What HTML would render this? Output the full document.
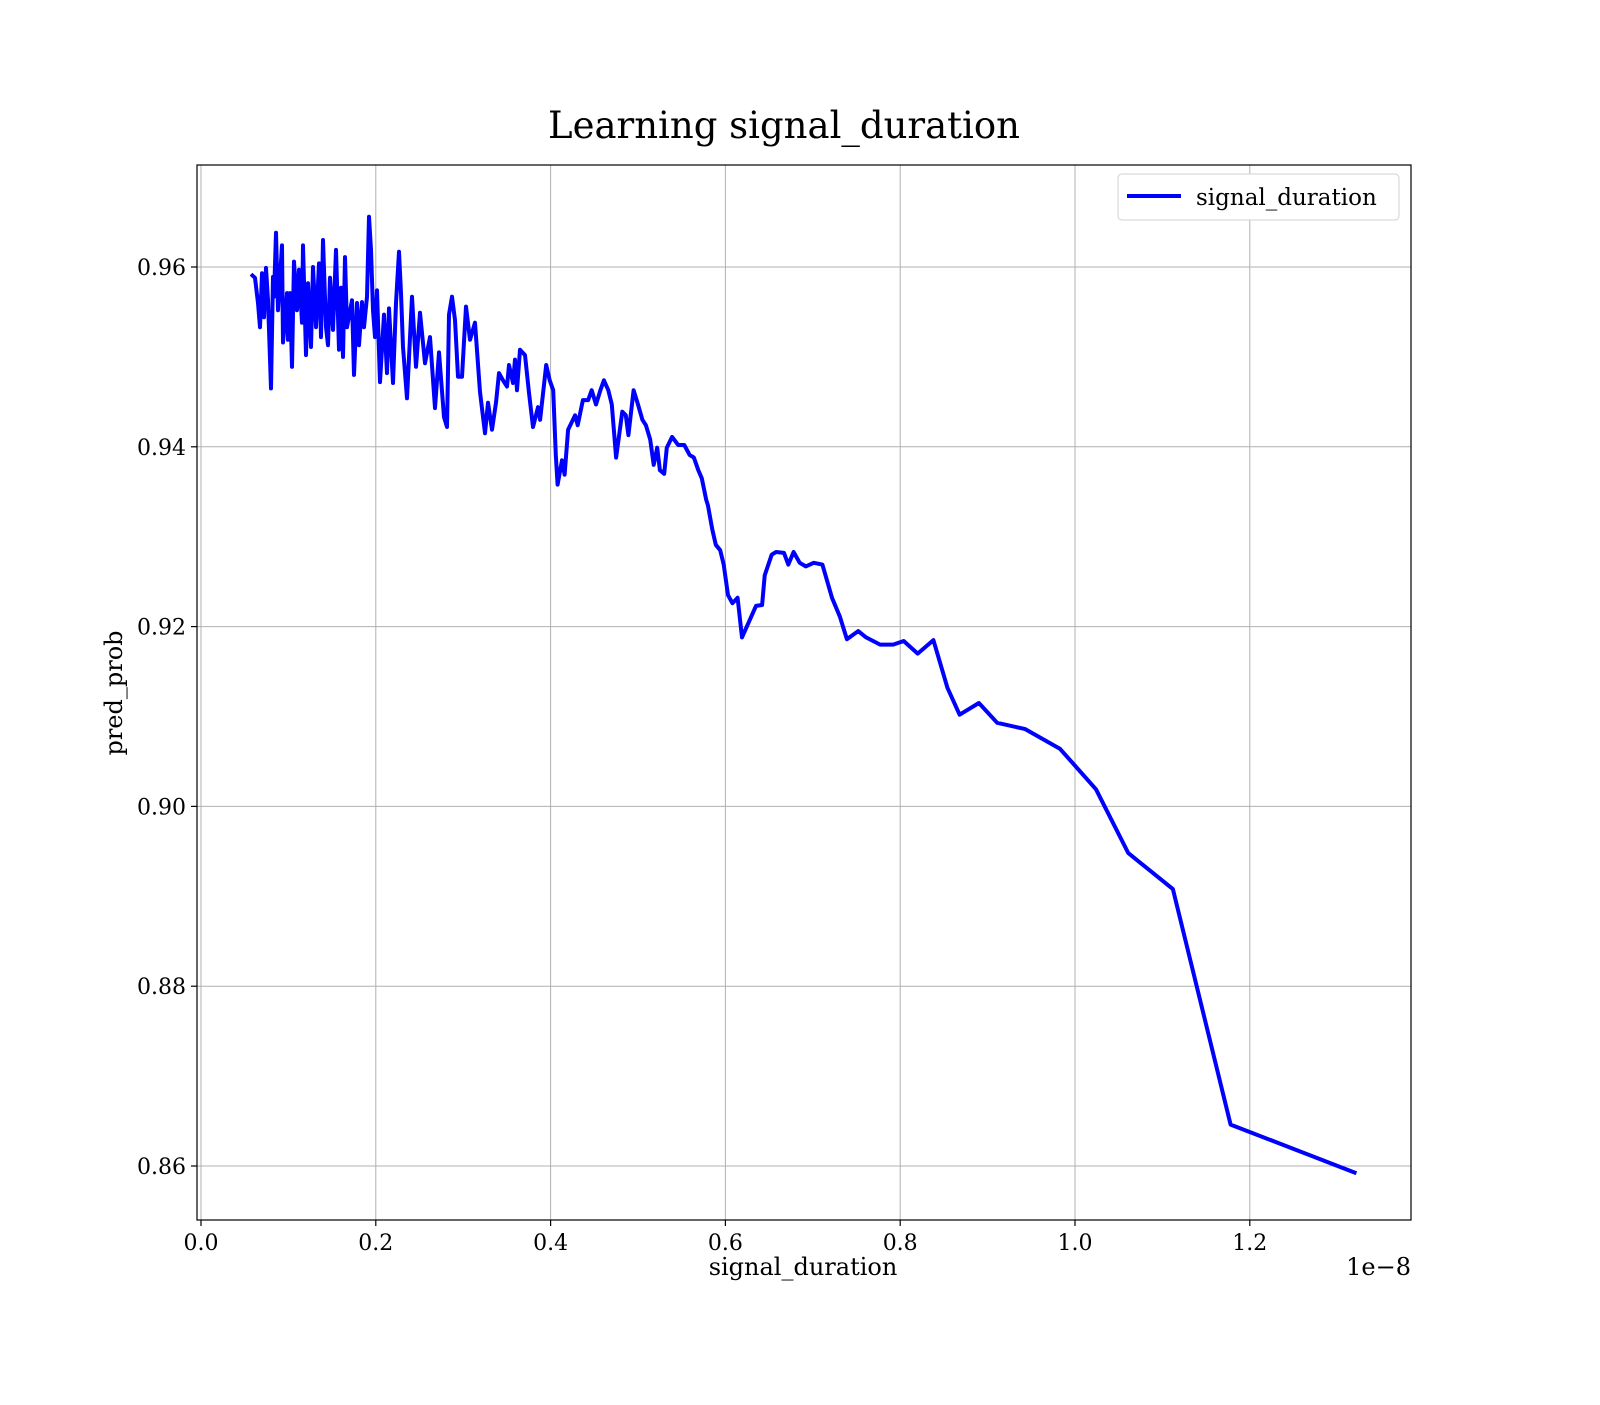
<!DOCTYPE html>
<html><head><meta charset="utf-8"><style>
body{margin:0;background:#fff;}
svg text{font-family:"DejaVu Serif","Liberation Serif",serif;}
</style></head><body>
<svg width="1600" height="1400" xmlns="http://www.w3.org/2000/svg">
<rect width="1600" height="1400" fill="#fff"/>
<text x="784" y="138" font-size="37" text-anchor="middle">Learning signal_duration</text>
<g id="grid"></g>
<g id="ticks"></g>
<path id="series" fill="none" stroke="#0000ff" stroke-width="4" stroke-linejoin="round"/>
<rect x="197" y="165" width="1214" height="1055" fill="none" stroke="#000" stroke-width="1.2"/>
<text x="803" y="1275" font-size="24" text-anchor="middle">signal_duration</text>
<text x="1411" y="1275" font-size="24" text-anchor="end">1e−8</text>
<text transform="translate(122,693) rotate(-90)" font-size="24" text-anchor="middle">pred_prob</text>
<g>
<rect x="1118" y="174" width="281" height="46" rx="4" fill="#fff" stroke="#d0d0d0"/>
<line x1="1127" y1="196" x2="1181" y2="196" stroke="#0000ff" stroke-width="4"/>
<text x="1196" y="205" font-size="23">signal_duration</text>
</g>
</svg>
<script>
const xTicks=[0.0,0.2,0.4,0.6,0.8,1.0,1.2];
const xTickLabels=["0.0","0.2","0.4","0.6","0.8","1.0","1.2"];
const yTicks=[0.86,0.88,0.90,0.92,0.94,0.96];
const yTickLabels=["0.86","0.88","0.90","0.92","0.94","0.96"];
const xs=[0.0572,0.0618,0.0652,0.0675,0.0698,0.0721,0.0744,0.0767,0.0801,0.0824,0.0835,0.0858,0.0881,0.0927,0.0938,0.0984,0.0995,0.1018,0.1041,0.1064,0.1098,0.1121,0.1156,0.1167,0.1201,0.1224,0.1259,0.1281,0.1316,0.1350,0.1373,0.1396,0.1430,0.1453,0.1476,0.1510,0.1545,0.1579,0.1602,0.1625,0.1648,0.1670,0.1728,0.1751,0.1785,0.1808,0.1842,0.1865,0.1899,0.1922,0.1945,0.1968,0.1991,0.2014,0.2048,0.2094,0.2128,0.2151,0.2197,0.2231,0.2265,0.2288,0.2311,0.2357,0.2414,0.2460,0.2506,0.2563,0.2620,0.2677,0.2723,0.2780,0.2815,0.2838,0.2872,0.2906,0.2941,0.2986,0.3032,0.3078,0.3135,0.3192,0.3249,0.3284,0.3330,0.3375,0.3410,0.3455,0.3501,0.3524,0.3570,0.3593,0.3616,0.3650,0.3707,0.3753,0.3799,0.3856,
0.388,0.395,0.399,0.403,0.406,0.408,0.413,0.416,0.420,0.428,0.431,0.437,0.443,0.447,0.452,0.457,0.461,0.466,0.470,0.475,0.482,0.486,0.489,0.495,0.500,0.505,0.509,0.514,0.518,0.522,0.525,0.530,0.533,0.539,0.546,0.553,0.559,0.564,0.569,0.573,0.578,0.580,0.585,0.589,0.594,0.598,0.603,0.608,0.612,0.614,0.619,0.635,0.642,0.645,0.653,0.658,0.667,0.672,0.678,0.685,0.692,0.701,0.711,0.722,0.731,0.739,0.752,0.761,0.777,0.792,0.804,0.820,0.838,0.854,0.868,0.890,0.911,0.943,0.983,1.024,1.061,1.112,1.178,1.322];
const ys=[0.9592,0.9588,0.9560,0.9533,0.9593,0.9544,0.9599,0.9563,0.9465,0.9589,0.9567,0.9638,0.9552,0.9624,0.9516,0.9571,0.9519,0.9571,0.9489,0.9606,0.9552,0.9597,0.9538,0.9624,0.9502,0.9582,0.9511,0.9600,0.9533,0.9604,0.9522,0.9630,0.9533,0.9513,0.9588,0.9530,0.9619,0.9508,0.9577,0.9500,0.9611,0.9533,0.9563,0.9480,0.9560,0.9513,0.9561,0.9533,0.9567,0.9656,0.9619,0.9552,0.9522,0.9574,0.9472,0.9547,0.9482,0.9554,0.9471,0.9560,0.9617,0.9571,0.9511,0.9454,0.9567,0.9489,0.9549,0.9493,0.9522,0.9443,0.9505,0.9433,0.9422,0.9547,0.9567,0.9541,0.9478,0.9478,0.9556,0.9519,0.9538,0.9461,0.9415,0.9449,0.9419,0.9449,0.9482,0.9474,0.9467,0.9491,0.9471,0.9497,0.9463,0.9508,0.9502,0.9460,0.9422,0.9444,
0.9430,0.9491,0.9474,0.9463,0.9391,0.9358,0.9385,0.9369,0.9419,0.9435,0.9424,0.9452,0.9452,0.9463,0.9447,0.9463,0.9474,0.9463,0.9447,0.9388,0.9439,0.9435,0.9413,0.9463,0.9447,0.9430,0.9424,0.9408,0.9380,0.9399,0.9374,0.9370,0.9399,0.9411,0.9402,0.9402,0.9391,0.9388,0.9374,0.9365,0.9341,0.9335,0.9308,0.9291,0.9285,0.9269,0.9235,0.9226,0.9230,0.9232,0.9188,0.9223,0.9224,0.9257,0.9280,0.9283,0.9282,0.9269,0.9283,0.9271,0.9267,0.9271,0.9269,0.9232,0.9211,0.9186,0.9195,0.9188,0.9180,0.9180,0.9184,0.9170,0.9185,0.9132,0.9102,0.9115,0.9093,0.9086,0.9064,0.9019,0.8948,0.8908,0.8646,0.8592];
const L=197,T=165,R=1411,B=1220;
function sx(v){return 201+874*v;}
function sy(v){return 267+(0.96-v)*8990;}
const NS="http://www.w3.org/2000/svg";
const grid=document.getElementById('grid'),ticks=document.getElementById('ticks');
function mk(tag,attrs,parent){const e=document.createElementNS(NS,tag);for(const k in attrs)e.setAttribute(k,attrs[k]);parent.appendChild(e);return e;}
xTicks.forEach((v,i)=>{const x=sx(v);
 const g=mk('line',{x1:x,y1:T,x2:x,y2:B,stroke:'#b0b0b0','stroke-width':1},grid);
 
 
 const t=mk('line',{x1:x,y1:B,x2:x,y2:B+6,stroke:'#000','stroke-width':1.2},ticks);
 
 
 const l=mk('text',{x:x,y:B+30,'font-size':22,'text-anchor':'middle'},ticks);l.textContent=xTickLabels[i];
 
 
});
yTicks.forEach((v,i)=>{const y=sy(v);
 const g=mk('line',{x1:L,y1:y,x2:R,y2:y,stroke:'#b0b0b0','stroke-width':1},grid);
 
 
 const t=mk('line',{x1:L-6,y1:y,x2:L,y2:y,stroke:'#000','stroke-width':1.2},ticks);
 
 
 const l=mk('text',{x:L-11,y:y+8,'font-size':22,'text-anchor':'end'},ticks);l.textContent=yTickLabels[i];
 
 
});
let d='';xs.forEach((v,i)=>{d+=(i?'L':'M')+sx(v).toFixed(1)+','+sy(ys[i]).toFixed(1);});
document.getElementById('series').setAttribute('d',d);
</script>
</body></html>
